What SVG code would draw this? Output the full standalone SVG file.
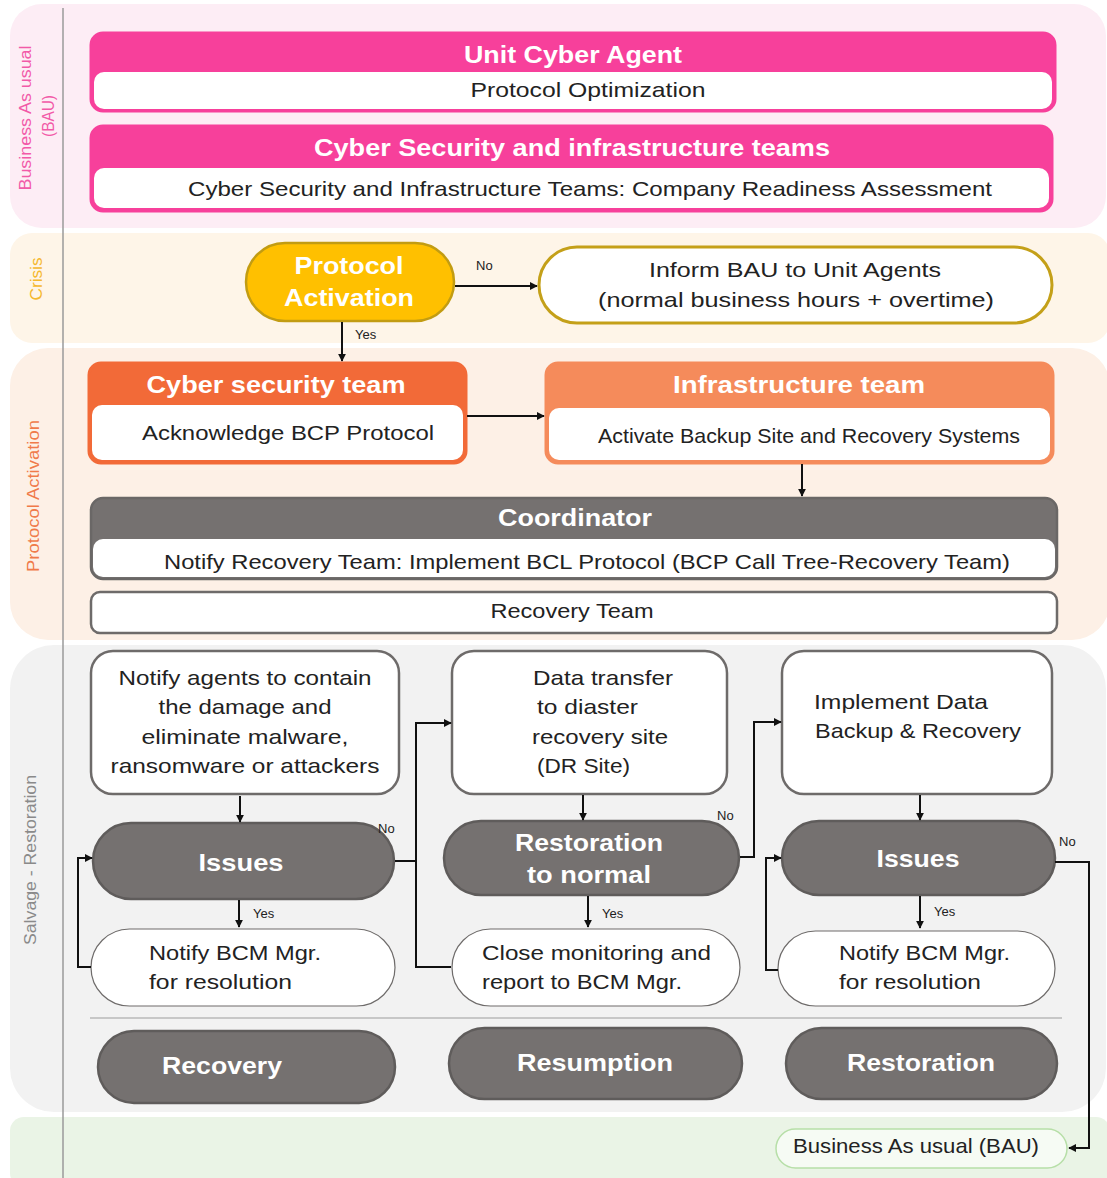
<svg xmlns="http://www.w3.org/2000/svg" width="1107" height="1178" viewBox="0 0 1107 1178">
<style>
text{font-family:"Liberation Sans",Arial,sans-serif;}
.t{font-size:24px;font-weight:bold;fill:#fff;text-anchor:middle;}
.b{font-size:21px;fill:#222;text-anchor:middle;}
.bs{font-size:21px;fill:#222;}
.lbl{font-size:13px;fill:#222;}
.lane{font-size:16px;text-anchor:middle;}
.con{fill:none;stroke:#111;stroke-width:2;}
.gray{fill:#757170;stroke:#5f5c5b;stroke-width:2.5;}
.wbox{fill:#fff;stroke:#6e6b6a;stroke-width:2.5;}
.thin{fill:#fff;stroke:#6e6b6a;stroke-width:1.2;}
</style>
<defs>
<marker id="ar" viewBox="0 0 10 10" refX="9" refY="5" markerWidth="8" markerHeight="8" orient="auto" markerUnits="userSpaceOnUse">
<path d="M0,0 L10,5 L0,10 z" fill="#111"/>
</marker>
</defs>

<g id="lanes">
<rect x="10" y="4" width="1096" height="224" rx="32" fill="#fdedf5"/>
<rect x="10" y="233" width="1100" height="110" rx="22" fill="#fef5e8"/>
<rect x="10" y="348" width="1100" height="292" rx="38" fill="#fdf0e6"/>
<rect x="10" y="645" width="1096" height="467" rx="44" fill="#f2f2f2"/>
<rect x="10" y="1117" width="1100" height="70" rx="14" fill="#eaf4e6"/>
<line x1="63" y1="8" x2="63" y2="1178" stroke="#9a9a9a" stroke-width="1.5"/>
<text class="lane" fill="#f25aa8" transform="translate(31,118) rotate(-90)" textLength="145" lengthAdjust="spacingAndGlyphs">Business As usual</text>
<text class="lane" fill="#f25aa8" transform="translate(54,116) rotate(-90)" textLength="42" lengthAdjust="spacingAndGlyphs">(BAU)</text>
<text class="lane" fill="#f5b82e" transform="translate(42,279) rotate(-90)" textLength="43" lengthAdjust="spacingAndGlyphs">Crisis</text>
<text class="lane" fill="#f07a4a" transform="translate(39,496) rotate(-90)" textLength="152" lengthAdjust="spacingAndGlyphs">Protocol Activation</text>
<text class="lane" fill="#8a8a8a" transform="translate(36,860) rotate(-90)" textLength="170" lengthAdjust="spacingAndGlyphs">Salvage - Restoration</text>
</g>

<g id="unit-cyber-agent">
<rect x="91" y="33" width="964" height="78" rx="12" fill="#f7409b" stroke="#f7409b" stroke-width="3"/>
<rect x="94" y="72" width="958" height="37" rx="10" fill="#fff"/>
<text class="t" x="573" y="63" textLength="218" lengthAdjust="spacingAndGlyphs">Unit Cyber Agent</text>
<text class="b" x="588" y="97" textLength="235" lengthAdjust="spacingAndGlyphs">Protocol Optimization</text>
</g>

<g id="cyber-security-infra-teams">
<rect x="91" y="126" width="961" height="85" rx="12" fill="#f7409b" stroke="#f7409b" stroke-width="3"/>
<rect x="94" y="168" width="955" height="40" rx="10" fill="#fff"/>
<text class="t" x="572" y="156" textLength="516" lengthAdjust="spacingAndGlyphs">Cyber Security and infrastructure teams</text>
<text class="b" x="590" y="196" textLength="804" lengthAdjust="spacingAndGlyphs">Cyber Security and Infrastructure Teams: Company Readiness Assessment</text>
</g>

<g id="protocol-activation">
<rect x="246" y="243" width="208" height="78" rx="39" fill="#ffc000" stroke="#c29c12" stroke-width="2.5"/>
<text class="t" x="349" y="274" font-size="25" textLength="109" lengthAdjust="spacingAndGlyphs">Protocol</text>
<text class="t" x="349" y="306" font-size="25" textLength="130" lengthAdjust="spacingAndGlyphs">Activation</text>
</g>

<g id="inform-bau">
<rect x="539" y="247" width="513" height="76" rx="38" fill="#fff" stroke="#c4a019" stroke-width="3"/>
<text class="b" x="795" y="277" textLength="292" lengthAdjust="spacingAndGlyphs">Inform BAU to Unit Agents</text>
<text class="b" x="796" y="307" textLength="396" lengthAdjust="spacingAndGlyphs">(normal business hours + overtime)</text>
</g>

<g id="cyber-security-team">
<rect x="89" y="363" width="377" height="100" rx="12" fill="#f26a38" stroke="#f26a38" stroke-width="3"/>
<rect x="92" y="405" width="371" height="55" rx="10" fill="#fff"/>
<text class="t" x="276" y="393" textLength="259" lengthAdjust="spacingAndGlyphs">Cyber security team</text>
<text class="b" x="288" y="440" textLength="292" lengthAdjust="spacingAndGlyphs">Acknowledge BCP Protocol</text>
</g>

<g id="infrastructure-team">
<rect x="546" y="363" width="507" height="100" rx="12" fill="#f58b5b" stroke="#f58b5b" stroke-width="3"/>
<rect x="549" y="408" width="501" height="52" rx="10" fill="#fff"/>
<text class="t" x="799" y="393" textLength="252" lengthAdjust="spacingAndGlyphs">Infrastructure team</text>
<text class="b" x="809" y="443" font-size="18" textLength="422" lengthAdjust="spacingAndGlyphs">Activate Backup Site and Recovery Systems</text>
</g>

<g id="coordinator">
<rect x="91" y="498" width="966" height="81" rx="12" fill="#757170" stroke="#6a6766" stroke-width="2.5"/>
<rect x="93" y="539" width="962" height="38" rx="10" fill="#fff"/>
<text class="t" x="575" y="526" textLength="154" lengthAdjust="spacingAndGlyphs">Coordinator</text>
<text class="b" x="587" y="569" textLength="846" lengthAdjust="spacingAndGlyphs">Notify Recovery Team: Implement BCL Protocol (BCP Call Tree-Recovery Team)</text>
</g>

<g id="recovery-team">
<rect x="91" y="592" width="966" height="41" rx="9" fill="#fff" stroke="#6e6b6a" stroke-width="2.5"/>
<text class="b" x="572" y="618" textLength="163" lengthAdjust="spacingAndGlyphs">Recovery Team</text>
</g>

<g id="notify-agents">
<rect class="wbox" x="91" y="651" width="308" height="143" rx="22"/>
<text class="b" x="245" y="685" textLength="253" lengthAdjust="spacingAndGlyphs">Notify agents to contain</text>
<text class="b" x="245" y="714" textLength="173" lengthAdjust="spacingAndGlyphs">the damage and</text>
<text class="b" x="245" y="744" textLength="207" lengthAdjust="spacingAndGlyphs">eliminate malware,</text>
<text class="b" x="245" y="773" textLength="269" lengthAdjust="spacingAndGlyphs">ransomware or attackers</text>
</g>

<g id="data-transfer">
<rect class="wbox" x="452" y="651" width="275" height="143" rx="22"/>
<text class="bs" x="533" y="685" textLength="140" lengthAdjust="spacingAndGlyphs">Data transfer</text>
<text class="bs" x="537" y="714" textLength="101" lengthAdjust="spacingAndGlyphs">to diaster</text>
<text class="bs" x="532" y="744" textLength="136" lengthAdjust="spacingAndGlyphs">recovery site</text>
<text class="bs" x="537" y="773" textLength="93" lengthAdjust="spacingAndGlyphs">(DR Site)</text>
</g>

<g id="implement-backup">
<rect class="wbox" x="782" y="651" width="270" height="143" rx="22"/>
<text class="bs" x="814" y="709" textLength="174" lengthAdjust="spacingAndGlyphs">Implement Data</text>
<text class="bs" x="815" y="738" textLength="206" lengthAdjust="spacingAndGlyphs">Backup &amp; Recovery</text>
</g>

<g id="issues-1">
<rect class="gray" x="93" y="823" width="301" height="76" rx="38"/>
<text class="t" x="241" y="871" font-size="26" textLength="85" lengthAdjust="spacingAndGlyphs">Issues</text>
</g>

<g id="restoration-normal">
<rect class="gray" x="444" y="821" width="295" height="74" rx="37"/>
<text class="t" x="589" y="851" textLength="148" lengthAdjust="spacingAndGlyphs">Restoration</text>
<text class="t" x="589" y="883" textLength="124" lengthAdjust="spacingAndGlyphs">to normal</text>
</g>

<g id="issues-3">
<rect class="gray" x="782" y="821" width="273" height="74" rx="37"/>
<text class="t" x="918" y="867" font-size="26" textLength="83" lengthAdjust="spacingAndGlyphs">Issues</text>
</g>

<g id="notify-bcm-1">
<rect class="thin" x="91" y="929" width="304" height="77" rx="38.5"/>
<text class="bs" x="149" y="960" textLength="172" lengthAdjust="spacingAndGlyphs">Notify BCM Mgr.</text>
<text class="bs" x="149" y="989" textLength="143" lengthAdjust="spacingAndGlyphs">for resolution</text>
</g>

<g id="close-monitoring">
<rect class="thin" x="452" y="929" width="288" height="77" rx="38.5"/>
<text class="bs" x="482" y="960" textLength="229" lengthAdjust="spacingAndGlyphs">Close monitoring and</text>
<text class="bs" x="482" y="989" textLength="200" lengthAdjust="spacingAndGlyphs">report to BCM Mgr.</text>
</g>

<g id="notify-bcm-3">
<rect class="thin" x="778" y="931" width="277" height="75" rx="37.5"/>
<text class="bs" x="839" y="960" textLength="171" lengthAdjust="spacingAndGlyphs">Notify BCM Mgr.</text>
<text class="bs" x="839" y="989" textLength="142" lengthAdjust="spacingAndGlyphs">for resolution</text>
</g>

<line x1="90" y1="1018" x2="1062" y2="1018" stroke="#b8b8b8" stroke-width="1.5"/>

<g id="recovery">
<rect class="gray" x="98" y="1031" width="297" height="72" rx="36"/>
<text class="t" x="222" y="1074" textLength="120" lengthAdjust="spacingAndGlyphs">Recovery</text>
</g>

<g id="resumption">
<rect class="gray" x="449" y="1028" width="293" height="71" rx="35.5"/>
<text class="t" x="595" y="1071" textLength="156" lengthAdjust="spacingAndGlyphs">Resumption</text>
</g>

<g id="restoration">
<rect class="gray" x="786" y="1028" width="271" height="71" rx="35.5"/>
<text class="t" x="921" y="1071" textLength="148" lengthAdjust="spacingAndGlyphs">Restoration</text>
</g>

<g id="bau-end">
<rect x="776" y="1129" width="291" height="39" rx="19.5" fill="#f6fbf4" stroke="#b7dfa8" stroke-width="1.5"/>
<text class="b" x="916" y="1153" font-size="19" textLength="246" lengthAdjust="spacingAndGlyphs">Business As usual (BAU)</text>
</g>

<g id="connectors">
<path class="con" d="M455,286 H537" marker-end="url(#ar)"/>
<path class="con" d="M342,322 V361" marker-end="url(#ar)"/>
<path class="con" d="M467,416 H544" marker-end="url(#ar)"/>
<path class="con" d="M802,464 V496" marker-end="url(#ar)"/>
<path class="con" d="M240,796 V822" marker-end="url(#ar)"/>
<path class="con" d="M239,900 V927" marker-end="url(#ar)"/>
<path class="con" d="M91,967 H78 V858 H92" marker-end="url(#ar)"/>
<path class="con" d="M395,861 H416"/>
<path class="con" d="M451,967 H416 V723 H451" marker-end="url(#ar)"/>
<path class="con" d="M583,795 V820" marker-end="url(#ar)"/>
<path class="con" d="M588,896 V927" marker-end="url(#ar)"/>
<path class="con" d="M740,857 H754 V722 H781" marker-end="url(#ar)"/>
<path class="con" d="M920,795 V820" marker-end="url(#ar)"/>
<path class="con" d="M920,896 V928" marker-end="url(#ar)"/>
<path class="con" d="M778,970 H766 V858 H781" marker-end="url(#ar)"/>
<path class="con" d="M1055,862 H1089 V1148 H1069" marker-end="url(#ar)"/>
<text class="lbl" x="476" y="270">No</text>
<text class="lbl" x="355" y="339">Yes</text>
<text class="lbl" x="378" y="833">No</text>
<text class="lbl" x="717" y="820">No</text>
<text class="lbl" x="1059" y="846">No</text>
<text class="lbl" x="253" y="918">Yes</text>
<text class="lbl" x="602" y="918">Yes</text>
<text class="lbl" x="934" y="916">Yes</text>
</g>
</svg>
